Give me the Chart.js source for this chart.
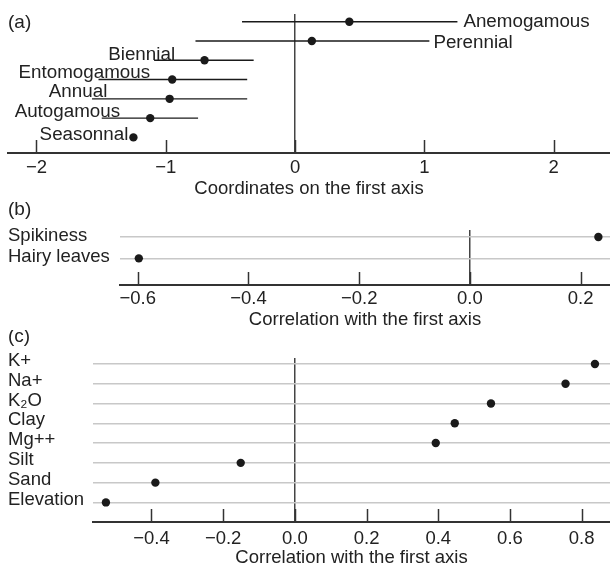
<!DOCTYPE html>
<html>
<head>
<meta charset="utf-8">
<script src="https://cdn.jsdelivr.net/npm/chart.js@4.4.0/dist/chart.umd.min.js"></script>
<style>
  html, body { margin: 0; padding: 0; background: #fff; }
  body { position: relative; width: 610px; height: 569px; overflow: hidden; }
  canvas { position: absolute; left: 0; }
</style>
</head>
<body>
<canvas id="panelA" width="610" height="200" style="top:0px"></canvas>
<canvas id="panelB" width="610" height="131" style="top:200px"></canvas>
<canvas id="panelC" width="610" height="239" style="top:330px"></canvas>
<script>
// (a) trait coordinates on the first axis, with interval ends
const traitLabels = ['Anemogamous', 'Perennial', 'Biennial', 'Entomogamous', 'Annual', 'Autogamous', 'Seasonnal'];
const traitCoord = [0.42, 0.13, -0.70, -0.95, -0.97, -1.12, -1.25];
const traitLow = [-0.41, -0.77, -1.09, -1.52, -1.57, -1.495, null];
const traitHigh = [1.256, 1.039, -0.32, -0.37, -0.37, -0.75, null];
const traitTicks = [-2, -1, 0, 1, 2];

// (b) leaf characters
const leafLabels = ['Spikiness', 'Hairy leaves'];
const leafCorr = [0.232, -0.598];
const leafTicks = [-0.6, -0.4, -0.2, 0, 0.2];

// (c) soil variables
const soilLabels = ['K+', 'Na+', 'K\u2082O', 'Clay', 'Mg++', 'Silt', 'Sand', 'Elevation'];
const soilCorr = [0.837, 0.755, 0.547, 0.446, 0.393, -0.151, -0.389, -0.527];
const soilTicks = [-0.4, -0.2, 0, 0.2, 0.4, 0.6, 0.8];

const FONT = '"Liberation Sans", Arial, sans-serif';
const INK = '#222';

// where the trait names sit in panel (a): x in axis units, side of the anchor, baseline shift in px
const traitLabelAt = [
  [1.302, 'left', 5], [1.07, 'left', 7], [-0.928, 'right', 0], [-1.121, 'right', -2],
  [-1.452, 'right', -2], [-1.353, 'right', -1], [-1.289, 'right', 2.5]
];

function minus(v, d) {
  return (v < 0 ? '\u2212' : '') + Math.abs(v).toFixed(d);
}

// inward tick marks on the x axis + the (a)/(b)/(c) tag
const panelDecor = {
  id: 'panelDecor',
  beforeDatasetsDraw(chart, args, opts) {
    const {ctx, chartArea} = chart;
    const x = chart.scales.x;
    ctx.save();
    ctx.strokeStyle = '#333';
    ctx.lineWidth = 1.5;
    x.ticks.forEach(t => {
      const px = Math.round(x.getPixelForValue(t.value)) + 0.5;
      ctx.beginPath();
      ctx.moveTo(px, chartArea.bottom);
      ctx.lineTo(px, chartArea.bottom - 13);
      ctx.stroke();
    });
    ctx.fillStyle = INK;
    ctx.font = '19px ' + FONT;
    ctx.textBaseline = 'middle';
    ctx.textAlign = 'left';
    ctx.fillText(opts.tag, 8, opts.tagY);
    ctx.restore();
  }
};

const traitNames = {
  id: 'traitNames',
  afterDatasetsDraw(chart) {
    const {ctx} = chart;
    const x = chart.scales.x, y = chart.scales.y;
    ctx.save();
    ctx.fillStyle = INK;
    ctx.font = '18.8px ' + FONT;
    ctx.textBaseline = 'alphabetic';
    traitLabels.forEach((name, i) => {
      const [at, side, dy] = traitLabelAt[i];
      ctx.textAlign = side;
      ctx.fillText(name, x.getPixelForValue(at), y.getPixelForValue(i) + dy);
    });
    ctx.restore();
  }
};

function xAxis(min, max, ticks, digits, title, height, pad) {
  return {
    type: 'linear',
    min: min,
    max: max,
    afterBuildTicks: s => { s.ticks = ticks.map(v => ({value: v})); },
    afterFit: s => { s.height = height; },
    grid: {
      drawTicks: false,
      lineWidth: 1.5,
      color: c => (c.tick && c.tick.value === 0) ? '#444' : 'rgba(0,0,0,0)'
    },
    border: {display: true, color: '#333', width: 2},
    ticks: {
      color: INK,
      padding: pad,
      font: {family: FONT, size: 18.5},
      maxRotation: 0,
      autoSkip: false,
      callback: v => minus(v, digits)
    },
    title: {
      display: true,
      text: title,
      color: INK,
      padding: {top: 0, bottom: 0},
      font: {family: FONT, size: 18.5}
    }
  };
}

function rowAxis(labels, min, max, width, shift) {
  return {
    type: 'linear',
    reverse: true,
    min: min,
    max: max,
    afterBuildTicks: s => { s.ticks = labels.map((_, i) => ({value: i})); },
    afterFit: s => { s.width = width; },
    grid: {drawTicks: false, color: '#c8c8c8', lineWidth: 1.5},
    border: {display: false},
    ticks: {
      color: INK,
      crossAlign: 'far',
      autoSkip: false,
      labelOffset: shift,
      font: {family: FONT, size: 18.5},
      callback: v => labels[v]
    }
  };
}

const common = {
  responsive: false,
  animation: false,
  events: [],
  plugins: {legend: {display: false}, tooltip: {enabled: false}}
};

// ---- (a)
const intervals = [];
traitLabels.forEach((name, i) => {
  if (traitLow[i] === null) return;
  intervals.push({
    data: [{x: traitLow[i], y: i}, {x: traitHigh[i], y: i}],
    showLine: true,
    borderColor: '#1a1a1a',
    borderWidth: 1.4,
    pointRadius: 0,
    clip: false
  });
});

new Chart(document.getElementById('panelA'), {
  type: 'scatter',
  data: {
    datasets: [{
      data: traitCoord.map((v, i) => ({x: v, y: i})),
      backgroundColor: '#1a1a1a',
      borderWidth: 0,
      pointRadius: 4.2,
      clip: false
    }].concat(intervals)
  },
  options: Object.assign({}, common, {
    layout: {autoPadding: false, padding: {top: 14, left: 8, right: 0, bottom: 0}},
    scales: {
      x: xAxis(-2.22, 2.436, traitTicks, 0, 'Coordinates on the first axis', 47, 4),
      y: {type: 'linear', display: false, reverse: true, min: -0.4, max: 6.81}
    },
    plugins: Object.assign({}, common.plugins, {panelDecor: {tag: '(a)', tagY: 23}})
  }),
  plugins: [panelDecor, traitNames]
});

// ---- (b)
new Chart(document.getElementById('panelB'), {
  type: 'scatter',
  data: {
    datasets: [{
      data: leafCorr.map((v, i) => ({x: v, y: i})),
      backgroundColor: '#1a1a1a',
      borderWidth: 0,
      pointRadius: 4.2,
      clip: false
    }]
  },
  options: Object.assign({}, common, {
    layout: {autoPadding: false, padding: {top: 30, left: 8, right: 0, bottom: 0}},
    scales: {
      x: xAxis(-0.632, 0.253, leafTicks, 1, 'Correlation with the first axis', 46, 3),
      y: rowAxis(leafLabels, -0.33, 2.25, 112, -1)
    },
    plugins: Object.assign({}, common.plugins, {panelDecor: {tag: '(b)', tagY: 10}})
  }),
  plugins: [panelDecor]
});

// ---- (c)
new Chart(document.getElementById('panelC'), {
  type: 'scatter',
  data: {
    datasets: [{
      data: soilCorr.map((v, i) => ({x: v, y: i})),
      backgroundColor: '#1a1a1a',
      borderWidth: 0,
      pointRadius: 4.2,
      clip: false
    }]
  },
  options: Object.assign({}, common, {
    layout: {autoPadding: false, padding: {top: 28, left: 8, right: 0, bottom: 0}},
    scales: {
      x: xAxis(-0.563, 0.879, soilTicks, 1, 'Correlation with the first axis', 47, 6),
      y: rowAxis(soilLabels, -0.3, 7.99, 85, -3)
    },
    plugins: Object.assign({}, common.plugins, {panelDecor: {tag: '(c)', tagY: 7}})
  }),
  plugins: [panelDecor]
});
</script>
</body>
</html>
